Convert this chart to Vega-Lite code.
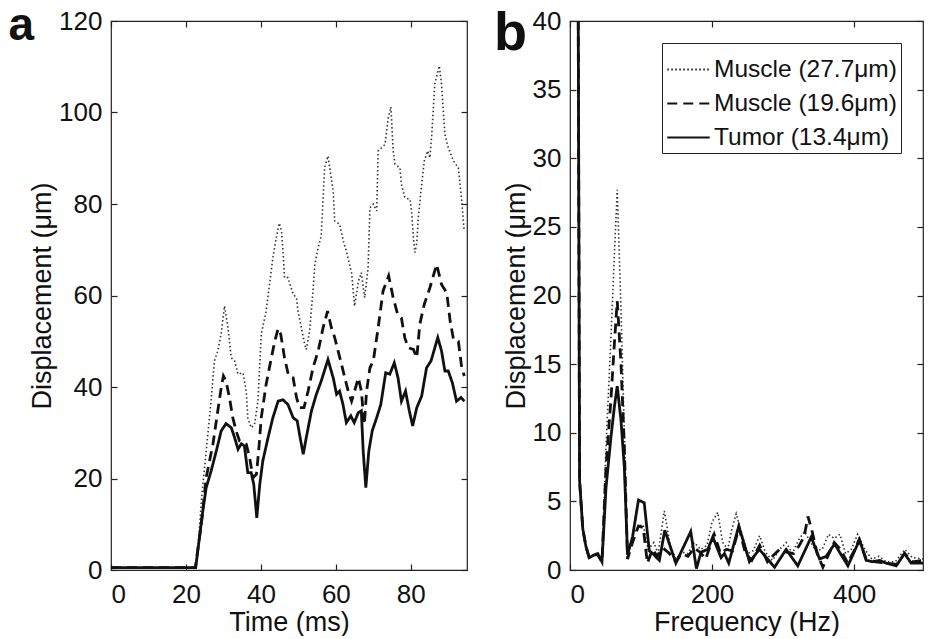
{
"$schema":"https://vega.github.io/schema/vega-lite/v6.json",
"background":"white",
"padding":{"left":8,"top":2,"right":0,"bottom":0},
"spacing":24,
"config":{
 "font":"Liberation Sans",
 "view":{"stroke":"#222","strokeWidth":1.2},
 "axis":{"labelFont":"Liberation Sans","titleFont":"Liberation Sans","labelFontSize":26,"titleFontSize":27,"titleFontWeight":"normal","labelColor":"#111","titleColor":"#111","tickColor":"#222","tickWidth":1.2,"grid":false,"domain":false,"tickSize":-6},
 "title":{"font":"Liberation Sans","fontWeight":"bold","color":"#111"}
},
"resolve":{"scale":{"strokeDash":"independent"},"legend":{"strokeDash":"independent"}},
"datasets":{
"a1":[{"t":0,"v":0.5},{"t":22.4,"v":0.5},{"t":23.2,"v":4.2},{"t":24.1,"v":15},{"t":25.4,"v":26},{"t":26.7,"v":36.9},{"t":27.6,"v":45.7},{"t":28.5,"v":47.9},{"t":29.4,"v":51.6},{"t":30.3,"v":57.7},{"t":31.2,"v":53},{"t":32.1,"v":46.4},{"t":33,"v":45.7},{"t":33.9,"v":42.8},{"t":35.2,"v":43.1},{"t":36.1,"v":39.1},{"t":36.5,"v":33.3},{"t":37.4,"v":31.1},{"t":38.3,"v":31.8},{"t":39.2,"v":36.9},{"t":40.1,"v":51.6},{"t":41.4,"v":56.6},{"t":42.3,"v":62.4},{"t":43.2,"v":68.3},{"t":44.1,"v":72.6},{"t":44.9,"v":75.8},{"t":45.5,"v":74.1},{"t":45.9,"v":69.7},{"t":46.3,"v":63.9},{"t":47.2,"v":63.9},{"t":48.6,"v":60.3},{"t":49.5,"v":59.5},{"t":49.9,"v":56.6},{"t":50.8,"v":53},{"t":51.7,"v":49.3},{"t":52.1,"v":48.2},{"t":53,"v":52.2},{"t":53.9,"v":61},{"t":54.4,"v":66.8},{"t":55.3,"v":70.5},{"t":56.1,"v":73},{"t":57,"v":87.9},{"t":57.9,"v":90.5},{"t":59.3,"v":82.8},{"t":59.7,"v":76.3},{"t":61,"v":75.6},{"t":62,"v":71.9},{"t":62.8,"v":69.7},{"t":64.2,"v":65},{"t":65,"v":57.7},{"t":66,"v":63},{"t":66.8,"v":65},{"t":67.7,"v":59.5},{"t":68.6,"v":66},{"t":69.1,"v":79.2},{"t":70,"v":80},{"t":70.9,"v":78.5},{"t":71.3,"v":91.6},{"t":72.2,"v":92.3},{"t":73.1,"v":93},{"t":74,"v":98.9},{"t":74.7,"v":101.2},{"t":75.3,"v":91.6},{"t":75.8,"v":88.7},{"t":77.1,"v":87.9},{"t":77.5,"v":84.3},{"t":78.4,"v":81.4},{"t":79.8,"v":81},{"t":80.2,"v":78.5},{"t":80.7,"v":72.6},{"t":81.1,"v":69.4},{"t":81.6,"v":71.5},{"t":82,"v":77},{"t":82.9,"v":84.3},{"t":83.6,"v":89.4},{"t":84.5,"v":91.6},{"t":85.1,"v":90.1},{"t":85.6,"v":95.2},{"t":86.4,"v":106.2},{"t":87.6,"v":110.2},{"t":88.2,"v":106.2},{"t":89.1,"v":95.2},{"t":90,"v":92.3},{"t":91.4,"v":89.4},{"t":92.7,"v":87.9},{"t":93.6,"v":80.7},{"t":94.2,"v":74.5}],
"a2":[{"t":0,"v":0.5},{"t":22.5,"v":0.5},{"t":24.1,"v":10},{"t":25.4,"v":20.2},{"t":27.2,"v":27.5},{"t":28.5,"v":34.8},{"t":29.4,"v":39.8},{"t":30,"v":42.4},{"t":30.7,"v":41.3},{"t":31.6,"v":37.7},{"t":32.5,"v":33.3},{"t":33.4,"v":30.4},{"t":34.3,"v":28.2},{"t":35.2,"v":27.8},{"t":36.1,"v":27.5},{"t":37,"v":24.5},{"t":37.9,"v":20.2},{"t":38.8,"v":20.9},{"t":39.4,"v":26},{"t":40.1,"v":33.3},{"t":41.4,"v":40.6},{"t":42.8,"v":46.4},{"t":43.7,"v":50},{"t":44.6,"v":52.8},{"t":45.3,"v":51.5},{"t":46.3,"v":46.4},{"t":47.4,"v":42.4},{"t":48.6,"v":42},{"t":49.5,"v":37.7},{"t":50.3,"v":35.5},{"t":51.5,"v":35.5},{"t":52.6,"v":39.1},{"t":53.9,"v":44.2},{"t":55.3,"v":47.9},{"t":56.6,"v":53},{"t":57.8,"v":56.6},{"t":58.8,"v":53},{"t":59.7,"v":50.8},{"t":60.6,"v":47.9},{"t":61.5,"v":45},{"t":62.4,"v":42},{"t":63.3,"v":39.1},{"t":64.2,"v":36.9},{"t":65,"v":39.1},{"t":66,"v":42},{"t":66.8,"v":39.1},{"t":67.6,"v":31.8},{"t":68.2,"v":39.1},{"t":69.1,"v":44.2},{"t":70,"v":45.7},{"t":71.3,"v":53},{"t":72.6,"v":61},{"t":74.1,"v":64.3},{"t":75.3,"v":59.5},{"t":76.5,"v":55.9},{"t":77.5,"v":55.1},{"t":78.4,"v":50.8},{"t":79.3,"v":48.6},{"t":80.7,"v":48.2},{"t":81.6,"v":46.4},{"t":82.4,"v":53.7},{"t":83.6,"v":58.1},{"t":85.1,"v":61.7},{"t":86.9,"v":66.8},{"t":88.2,"v":62.4},{"t":89.6,"v":60.6},{"t":90.5,"v":54.4},{"t":91.4,"v":50.4},{"t":92.7,"v":50},{"t":93.6,"v":44.2},{"t":94.3,"v":42.4}],
"a3":[{"t":0,"v":0.5},{"t":22.6,"v":0.5},{"t":23.6,"v":7.1},{"t":24.5,"v":12.9},{"t":25.4,"v":18},{"t":26.7,"v":21.6},{"t":28.1,"v":26},{"t":29.4,"v":30.4},{"t":30.7,"v":32},{"t":32.1,"v":31.1},{"t":33,"v":28.9},{"t":33.9,"v":26.4},{"t":34.8,"v":27.6},{"t":35.6,"v":27.1},{"t":36.5,"v":21.3},{"t":37.4,"v":21.3},{"t":38.1,"v":18.7},{"t":38.9,"v":11.4},{"t":39.7,"v":18.7},{"t":40.5,"v":23.8},{"t":41.9,"v":28.9},{"t":43.2,"v":33.3},{"t":44.6,"v":36.9},{"t":45.9,"v":37.2},{"t":47.2,"v":36.2},{"t":48.6,"v":33.3},{"t":49.7,"v":32.6},{"t":50.3,"v":29.7},{"t":51.3,"v":25.3},{"t":52.1,"v":28.9},{"t":53.5,"v":34.8},{"t":54.8,"v":38.4},{"t":56.1,"v":41.3},{"t":57.9,"v":46},{"t":59.3,"v":42},{"t":60.2,"v":38.4},{"t":61,"v":39.1},{"t":61.9,"v":36.2},{"t":62.8,"v":32.2},{"t":64,"v":33.7},{"t":64.9,"v":32.2},{"t":66,"v":34.4},{"t":66.8,"v":34.8},{"t":67.3,"v":26},{"t":68,"v":18},{"t":68.8,"v":26},{"t":69.7,"v":30.4},{"t":70.9,"v":33.3},{"t":72,"v":36.2},{"t":73.3,"v":43.1},{"t":74.4,"v":42.8},{"t":75.6,"v":45.3},{"t":76.6,"v":42},{"t":77.5,"v":36.9},{"t":78.6,"v":39.1},{"t":79.6,"v":34.8},{"t":80.5,"v":31.5},{"t":81.6,"v":35.5},{"t":82.9,"v":38},{"t":84.2,"v":44.2},{"t":85.4,"v":45.7},{"t":87.2,"v":50.8},{"t":88.2,"v":47.9},{"t":89.1,"v":43.5},{"t":90,"v":43.5},{"t":91.1,"v":40.9},{"t":92.2,"v":36.9},{"t":93.4,"v":37.7},{"t":94.3,"v":36.9}],
"b1":[{"f":0,"v":300},{"f":10.5,"v":60},{"f":13.5,"v":7},{"f":18,"v":3},{"f":22.5,"v":1.7},{"f":27,"v":1},{"f":34,"v":1.1},{"f":39,"v":1.2},{"f":45,"v":0.7},{"f":50.7,"v":9},{"f":57.7,"v":17},{"f":62.5,"v":23},{"f":66.5,"v":27.7},{"f":71.8,"v":19},{"f":76.5,"v":10},{"f":81,"v":1.2},{"f":88,"v":2.5},{"f":96.4,"v":3.2},{"f":103,"v":3.3},{"f":110,"v":1.5},{"f":118,"v":2},{"f":124,"v":1.2},{"f":132.8,"v":4.3},{"f":141,"v":1.8},{"f":149,"v":0.8},{"f":158,"v":1.3},{"f":166,"v":1.2},{"f":175,"v":2},{"f":184,"v":1.5},{"f":193,"v":1.8},{"f":200,"v":3.5},{"f":208,"v":4.2},{"f":215,"v":2},{"f":222,"v":1.5},{"f":228,"v":3},{"f":234,"v":4.1},{"f":241,"v":2.8},{"f":250,"v":1.2},{"f":258,"v":1.4},{"f":267,"v":2.5},{"f":275,"v":1.3},{"f":285,"v":0.7},{"f":295,"v":1.5},{"f":304.6,"v":2},{"f":313,"v":1.2},{"f":322,"v":2.2},{"f":330,"v":2.8},{"f":337,"v":2.2},{"f":346,"v":1.4},{"f":355,"v":1.5},{"f":364,"v":2.6},{"f":372,"v":2.3},{"f":380,"v":2.6},{"f":388,"v":1.2},{"f":396,"v":1.5},{"f":405,"v":2.6},{"f":415,"v":1.5},{"f":425,"v":0.8},{"f":435,"v":1},{"f":445,"v":0.6},{"f":458,"v":0.6},{"f":471.4,"v":1.5},{"f":482,"v":0.9},{"f":497,"v":0.8}],
"b2":[{"f":0,"v":300},{"f":10.5,"v":60},{"f":13.5,"v":6.5},{"f":18,"v":3},{"f":22.5,"v":1.7},{"f":27,"v":0.9},{"f":34,"v":1.1},{"f":39,"v":1.1},{"f":45,"v":0.6},{"f":50.7,"v":7.5},{"f":57.7,"v":12.5},{"f":62.5,"v":16.5},{"f":66.5,"v":19.6},{"f":71.8,"v":15},{"f":76.5,"v":9},{"f":81,"v":0.8},{"f":88,"v":2},{"f":96.4,"v":3.2},{"f":103,"v":3.1},{"f":109,"v":0.5},{"f":116,"v":1.5},{"f":123,"v":1},{"f":131,"v":1.6},{"f":140,"v":1.2},{"f":149,"v":0.6},{"f":157,"v":1.2},{"f":166,"v":1},{"f":175,"v":1.6},{"f":183,"v":1.3},{"f":191,"v":0.8},{"f":203,"v":2.6},{"f":212,"v":1.2},{"f":220,"v":1.5},{"f":229,"v":1.4},{"f":238,"v":3.1},{"f":247,"v":1.2},{"f":256,"v":0.7},{"f":267,"v":1.8},{"f":278,"v":0.6},{"f":285,"v":1},{"f":295,"v":1.5},{"f":305,"v":1.3},{"f":315,"v":1.2},{"f":323,"v":1.8},{"f":330,"v":2.5},{"f":335,"v":3.9},{"f":341,"v":2.8},{"f":348,"v":1.2},{"f":356,"v":0.2},{"f":363,"v":1},{"f":372,"v":2},{"f":381,"v":1.5},{"f":391,"v":0.5},{"f":400,"v":1.4},{"f":407,"v":2.2},{"f":417,"v":0.8},{"f":430,"v":0.6},{"f":445,"v":0.5},{"f":460,"v":0.4},{"f":471,"v":1.2},{"f":482,"v":0.6},{"f":497,"v":0.7}],
"b3":[{"f":0,"v":300},{"f":10.5,"v":60},{"f":13.5,"v":6.5},{"f":18,"v":3},{"f":22.5,"v":1.7},{"f":27,"v":0.9},{"f":34,"v":1.1},{"f":39,"v":1.2},{"f":45,"v":0.6},{"f":50.7,"v":6},{"f":57.7,"v":9.7},{"f":62.5,"v":11.9},{"f":66.5,"v":13.4},{"f":71.8,"v":10.9},{"f":76.5,"v":7.5},{"f":81,"v":1.1},{"f":88,"v":2.4},{"f":96.4,"v":5.1},{"f":104.5,"v":4.9},{"f":111.6,"v":1.4},{"f":116.5,"v":1.2},{"f":125.8,"v":0.7},{"f":133.5,"v":2.9},{"f":149,"v":0.5},{"f":170,"v":2.8},{"f":178,"v":0.1},{"f":184.5,"v":1.3},{"f":194,"v":1.5},{"f":201,"v":2.4},{"f":212.7,"v":0.9},{"f":217.5,"v":1.2},{"f":223.5,"v":0.5},{"f":237.6,"v":3.2},{"f":252.7,"v":0.6},{"f":266.8,"v":1.5},{"f":288,"v":0.2},{"f":304.3,"v":1.5},{"f":320.7,"v":0.3},{"f":339.6,"v":2.4},{"f":351.4,"v":0.8},{"f":360.7,"v":1},{"f":372.5,"v":1.9},{"f":391.3,"v":0.3},{"f":407.7,"v":2.2},{"f":417,"v":0.7},{"f":426.5,"v":0.6},{"f":435.9,"v":0.7},{"f":445,"v":0.5},{"f":459.2,"v":0.3},{"f":471,"v":1.2},{"f":480.3,"v":0.5},{"f":497,"v":0.5}]
},
"hconcat":[
{
 "width":356,"height":549,
 "title":{"text":"a","anchor":"start","frame":"bounds","fontSize":46,"offset":-42,"dx":-20},
 "layer":[
  {
   "encoding":{
    "x":{"field":"t","type":"quantitative","scale":{"domain":[0,95],"nice":false},"axis":{"values":[0,20,40,60,80],"title":"Time (ms)","labelPadding":17,"titlePadding":2}},
    "y":{"field":"v","type":"quantitative","scale":{"domain":[0,120],"nice":false},"axis":{"values":[0,20,40,60,80,100,120],"title":"Displacement (μm)","labelPadding":15,"titlePadding":2}}
   },
   "layer":[
    {"data":{"name":"a1"},"mark":{"type":"line","strokeWidth":1.6,"color":"#333","clip":true},"encoding":{"strokeDash":{"datum":"Muscle (27.7μm)","scale":{"domain":["Muscle (27.7μm)","Muscle (19.6μm)","Tumor (13.4μm)"],"range":[[1.5,2.5],[10,6],[1,0]]},"legend":null}}},
    {"data":{"name":"a2"},"mark":{"type":"line","strokeWidth":2.8,"color":"#111","clip":true},"encoding":{"strokeDash":{"datum":"Muscle (19.6μm)","legend":null}}},
    {"data":{"name":"a3"},"mark":{"type":"line","strokeWidth":2.8,"color":"#111","clip":true},"encoding":{"strokeDash":{"datum":"Tumor (13.4μm)","legend":null}}}
   ]
  },
  {"data":{"name":"a3"},"mark":{"type":"line","opacity":0,"clip":true},"encoding":{
    "x":{"field":"t","type":"quantitative","axis":{"orient":"top","values":[0,20,40,60,80],"labels":false,"title":null}},
    "y":{"field":"v","type":"quantitative","axis":{"orient":"right","values":[0,20,40,60,80,100,120],"labels":false,"title":null}}}}
 ],
 "resolve":{"axis":{"x":"independent","y":"independent"}}
},
{
 "width":353,"height":549,
 "title":{"text":"b","anchor":"start","frame":"bounds","fontSize":54,"offset":-53,"dx":-8},
 "layer":[
  {
   "encoding":{
    "x":{"field":"f","type":"quantitative","scale":{"domain":[0,497],"nice":false},"axis":{"values":[0,200,400],"title":"Frequency (Hz)","labelPadding":17,"titlePadding":2}},
    "y":{"field":"v","type":"quantitative","scale":{"domain":[0,40],"nice":false},"axis":{"values":[0,5,10,15,20,25,30,35,40],"title":"Displacement (μm)","labelPadding":15,"titlePadding":2}}
   },
   "layer":[
    {"data":{"name":"b1"},"mark":{"type":"line","strokeWidth":1.6,"color":"#333","clip":true},"encoding":{"strokeDash":{"datum":"Muscle (27.7μm)","scale":{"domain":["Muscle (27.7μm)","Muscle (19.6μm)","Tumor (13.4μm)"],"range":[[1.5,2.5],[10,6],[1,0]]},
      "legend":{"orient":"none","legendX":92,"legendY":22,"title":null,"symbolType":"stroke","symbolSize":1800,"symbolStrokeWidth":2.2,"symbolStrokeColor":"#111","labelFontSize":24.5,"labelFont":"Liberation Sans","labelColor":"#111","labelOffset":3,"labelLimit":400,"strokeColor":"#222","fillColor":"white","padding":4,"rowPadding":-12}}}},
    {"data":{"name":"b2"},"mark":{"type":"line","strokeWidth":2.8,"color":"#111","clip":true},"encoding":{"strokeDash":{"datum":"Muscle (19.6μm)"}}},
    {"data":{"name":"b3"},"mark":{"type":"line","strokeWidth":2.8,"color":"#111","clip":true},"encoding":{"strokeDash":{"datum":"Tumor (13.4μm)"}}}
   ]
  },
  {"data":{"name":"b3"},"mark":{"type":"line","opacity":0,"clip":true},"encoding":{
    "x":{"field":"f","type":"quantitative","axis":{"orient":"top","values":[0,200,400],"labels":false,"title":null}},
    "y":{"field":"v","type":"quantitative","axis":{"orient":"right","values":[0,5,10,15,20,25,30,35,40],"labels":false,"title":null}}}}
 ],
 "resolve":{"axis":{"x":"independent","y":"independent"}}
}
]
}
